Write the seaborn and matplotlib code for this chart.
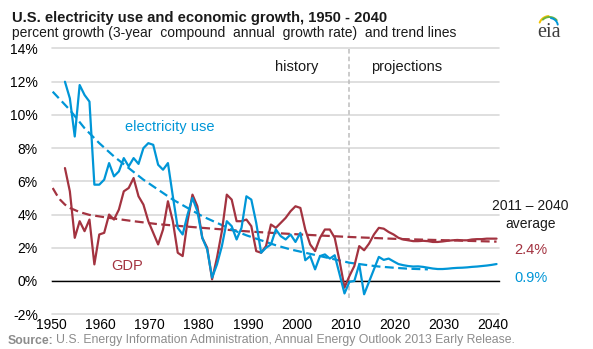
import numpy as np
import pandas as pd
import matplotlib
matplotlib.use("Agg")
import matplotlib.pyplot as plt
import seaborn as sns

# ---------------- data ----------------
years = list(range(1952, 2041))
electricity = [
    12.0, 11.0, 8.7, 11.8, 11.2, 10.8, 5.8, 5.8, 6.1, 7.1,      # 1952-1961
    6.3, 6.6, 7.4, 6.9, 7.4, 7.05, 8.0, 8.3, 8.2, 7.0,          # 1962-1971
    6.7, 7.1, 5.1, 3.2, 2.8, 4.0, 5.0, 4.2, 2.6, 1.9,           # 1972-1981
    0.2, 1.0, 2.1, 3.6, 3.3, 2.5, 3.2, 5.1, 4.9, 3.5,           # 1982-1991
    1.7, 2.0, 2.2, 3.1, 2.7, 2.5, 2.8, 2.35, 2.9, 1.25,         # 1992-2001
    1.5, 0.7, 1.5, 1.6, 1.35, 1.55, 0.4, -0.75, -0.05, 0.0,     # 2002-2011
    1.0, -0.8, -0.05, 0.7, 1.45, 1.27, 1.35, 1.18, 1.02, 0.95,  # 2012-2021
    0.9, 0.87, 0.88, 0.85, 0.8, 0.75, 0.72, 0.72, 0.74, 0.77,   # 2022-2031
    0.79, 0.8, 0.82, 0.85, 0.87, 0.9, 0.93, 0.97, 1.02,         # 2032-2040
]
gdp = [
    6.8, 5.4, 2.6, 3.6, 3.0, 3.7, 1.0, 2.8, 2.9, 4.0,           # 1952-1961
    3.7, 4.3, 5.4, 5.6, 6.2, 5.1, 4.6, 3.6, 2.9, 2.2,           # 1962-1971
    3.1, 4.8, 3.6, 1.7, 1.5, 3.6, 5.2, 4.5, 2.6, 2.0,           # 1972-1981
    0.1, 1.4, 3.0, 5.2, 4.9, 3.6, 3.6, 3.7, 3.3, 1.8,           # 1982-1991
    1.7, 2.1, 3.4, 3.2, 3.5, 3.8, 4.2, 4.5, 4.4, 3.1,           # 1992-2001
    2.2, 1.8, 2.6, 3.1, 3.1, 2.6, 1.2, -0.4, 0.3, 0.9,          # 2002-2011
    2.1, 1.85, 2.25, 2.8, 3.2, 3.15, 2.95, 2.8, 2.6, 2.5,       # 2012-2021
    2.45, 2.4, 2.4, 2.42, 2.4, 2.35, 2.35, 2.38, 2.42, 2.45,    # 2022-2031
    2.47, 2.45, 2.45, 2.5, 2.52, 2.52, 2.55, 2.55, 2.55,        # 2032-2040
]
elec_trend_years = [1949.5, 1953, 1956, 1959, 1962, 1965, 1968, 1971, 1974, 1977,
                    1980, 1983, 1986, 1989, 1992, 1995, 1998, 2001, 2004, 2007,
                    2010, 2013, 2016, 2019, 2022, 2026]
elec_trend = [11.4, 10.3, 9.2, 8.3, 7.5, 6.8, 6.1, 5.5, 4.9, 4.4,
              3.9, 3.5, 3.1, 2.75, 2.45, 2.15, 1.9, 1.7, 1.5, 1.3,
              1.1, 0.98, 0.87, 0.8, 0.74, 0.7]
gdp_trend_years = [1949.5, 1950.3, 1951, 1952, 1953, 1955, 1957, 1961, 1966, 1971,
                   1980, 1990, 2000, 2010, 2020, 2030, 2040]
gdp_trend = [5.6, 5.2, 4.9, 4.6, 4.4, 4.15, 3.98, 3.8, 3.6, 3.42,
             3.2, 2.97, 2.8, 2.65, 2.53, 2.45, 2.37]
history_end = 2010
y_ticks = [-2, 0, 2, 4, 6, 8, 10, 12, 14]
y_tick_labels = ["-2%", "0%", "2%", "4%", "6%", "8%", "10%", "12%", "14%"]
x_ticks = [1950, 1960, 1970, 1980, 1990, 2000, 2010, 2020, 2030, 2040]
x_tick_labels = [str(v) for v in x_ticks]

assert len(years) == len(electricity) == len(gdp)

# ---------------- style ----------------
BLUE = "#0096d7"
RED = "#a33340"
GRID = "#d9d9d9"
X_OFFSET = 0.7  # data points sit slightly right of the year tick
W, H = 593, 349

sns.set_style("white")
plt.rcParams["font.family"] = ["Liberation Sans", "DejaVu Sans"]

fig = plt.figure(figsize=(W / 100, H / 100), dpi=100)
ax = fig.add_axes([51.7 / W, 1 - 314.2 / H, (499 - 51.7) / W, (314.2 - 48.5) / H])

df = pd.DataFrame({"year": np.array(years) + X_OFFSET,
                   "electricity": electricity, "gdp": gdp})
et = pd.DataFrame({"year": np.array(elec_trend_years) + X_OFFSET, "v": elec_trend})
gt = pd.DataFrame({"year": np.array(gdp_trend_years) + X_OFFSET, "v": gdp_trend})

sns.lineplot(data=gt, x="year", y="v", ax=ax, color=RED, lw=1.6,
             linestyle=(0, (4, 2)), zorder=3)
sns.lineplot(data=et, x="year", y="v", ax=ax, color=BLUE, lw=1.6,
             linestyle=(0, (4, 2)), zorder=3)
sns.lineplot(data=df, x="year", y="gdp", ax=ax, color=RED, lw=1.6, zorder=4)
sns.lineplot(data=df, x="year", y="electricity", ax=ax, color=BLUE, lw=1.6, zorder=5)

ax.vlines(history_end + X_OFFSET, -1, 14, colors="#bdbdbd", linestyles=(0, (3, 2)),
          lw=1.1, zorder=2)

ax.set_xlim(1950, 2041.2)
ax.set_ylim(-2, 14)
ax.set_xticks(x_ticks)
ax.set_xticklabels(x_tick_labels)
ax.set_yticks(y_ticks)
ax.set_yticklabels(y_tick_labels)
ax.set_xlabel("")
ax.set_ylabel("")
for s in ["left", "right", "top"]:
    ax.spines[s].set_visible(False)
ax.spines["bottom"].set_position(("data", 0))
ax.spines["bottom"].set_color("black")
ax.spines["bottom"].set_linewidth(1.0)
ax.spines["bottom"].set_zorder(2.5)
ax.tick_params(axis="x", direction="out", length=3.8, width=1.0, color="black",
               pad=22.5, labelsize=10, labelcolor="black")
ax.tick_params(axis="y", length=0, pad=10, labelsize=10, labelcolor="black")
ax.grid(axis="y", color=GRID, lw=1.2)
ax.grid(axis="x", visible=False)
ax.set_axisbelow(True)
for gl in ax.get_ygridlines():
    gl.set_clip_on(False)


def ftext(x, y, s, **kw):
    return fig.text(x / W, 1 - y / H, s, **kw)


# titles
ftext(12.5, 22, "U.S. electricity use and economic growth, 1950 - 2040",
      fontsize=10.6, fontweight="bold", color="#1a1a1a", va="baseline")
ftext(12.5, 37.5, "percent growth (3-year  compound  annual  growth rate)  and trend lines",
      fontsize=10, color="#1a1a1a", va="baseline")

# annotations
ftext(296.5, 67, "history", fontsize=10.5, ha="center", va="center", color="#1a1a1a")
ftext(407, 67, "projections", fontsize=10.5, ha="center", va="center", color="#1a1a1a")
ftext(170, 127, "electricity use", fontsize=10.5, ha="center", va="center", color=BLUE)
ftext(127, 266.5, "GDP", fontsize=10.5, ha="center", va="center", color=RED)
ftext(530.5, 206, "2011 \u2013 2040", fontsize=10, ha="center", va="center", color="#1a1a1a")
ftext(531, 224, "average", fontsize=10, ha="center", va="center", color="#1a1a1a")
ftext(531, 250, "2.4%", fontsize=10.5, ha="center", va="center", color=RED)
ftext(531, 278, "0.9%", fontsize=10.5, ha="center", va="center", color=BLUE)

# source
src_bold = ftext(7.5, 343.5, "Source:", fontsize=8.8, fontweight="bold",
                 color="#8c8c8c", va="baseline")
fig.canvas.draw()
bb = src_bold.get_window_extent()
fig.text(bb.x1 / W + 3 / W, 1 - 343.5 / H,
         "U.S. Energy Information Administration, Annual Energy Outlook 2013 Early Release.",
         fontsize=8.8, color="#8c8c8c", va="baseline")

# eia logo
ftext(549, 37, "eia", fontsize=14.5, family=["Liberation Serif", "DejaVu Serif"],
      color="#3d3d3d", ha="center", va="baseline")
lax = fig.add_axes([538 / W, 1 - 28 / H, 23 / W, 14 / H])
lax.set_xlim(-1.1, 1.1)
lax.set_ylim(-0.2, 1.2)
lax.axis("off")
for r, t1, t2, c in [(1.0, 95, 160, "#f2c200"), (0.9, 40, 135, "#6cb33f"),
                     (0.8, 10, 80, BLUE)]:
    th = np.radians(np.linspace(t1, t2, 30))
    lax.plot(r * np.cos(th), r * np.sin(th), color=c, lw=1.4,
             solid_capstyle="round")

fig.savefig("out.png", dpi=100)
